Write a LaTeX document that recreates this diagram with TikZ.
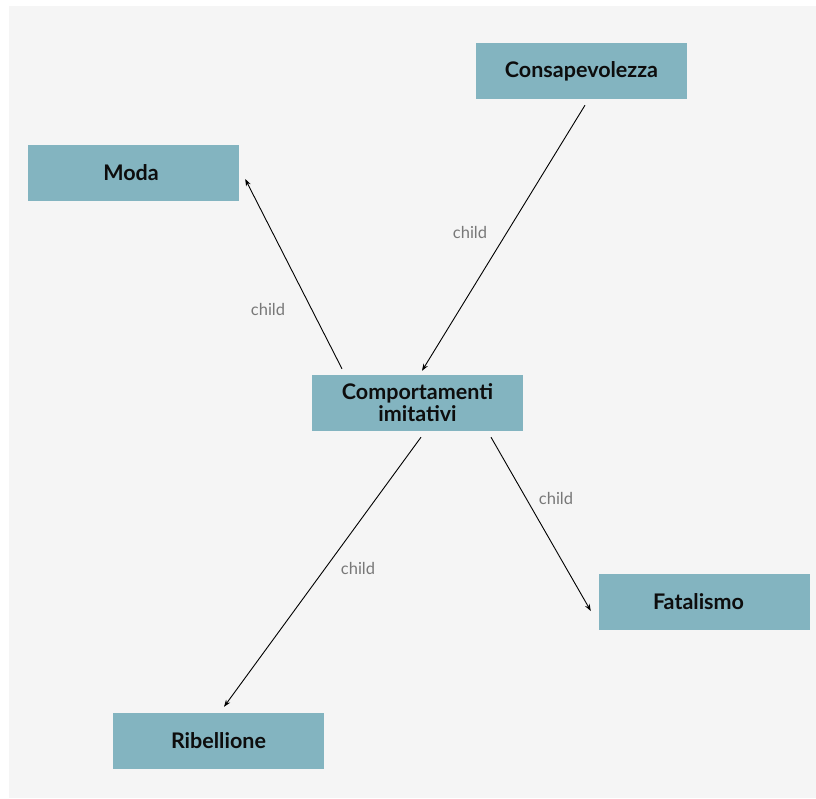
\documentclass[tikz,border=0pt]{standalone}
\usepackage{fontspec}
\setmainfont{Lato}
\usetikzlibrary{arrows.meta}
\definecolor{boxfill}{RGB}{131,180,192}
\definecolor{canvas}{RGB}{245,245,245}
\definecolor{labelgray}{RGB}{120,120,120}
\begin{document}
\begin{tikzpicture}[x=1pt,y=-1pt,
  concept/.style={fill=boxfill,minimum width=211pt,minimum height=56pt,inner sep=0pt,
    align=center,font=\fontsize{21.5}{22}\selectfont\bfseries,text=black!95},
  link/.style={draw=black,line width=0.9pt,-{Stealth[length=7pt,width=5pt]}},
  edgelabel/.style={font=\fontsize{16.5}{18}\selectfont,text=labelgray}]
  % canvas
  \useasboundingbox (0,0) rectangle (816,798);
  \fill[canvas] (9,6) rectangle (816,798);
  % concept boxes
  \node[concept] (cons) at (581.5,71) {Consapevolezza};
  \node[concept] (moda) at (133.5,173) {Moda\kern5pt};
  \node[concept] (comp) at (417.5,403) {Comportamenti\\imitativi};
  \node[concept] (fata) at (704.5,602) {Fatalismo\kern12pt};
  \node[concept] (ribe) at (218.5,741) {Ribellione};
  % links
  \draw[link] ([shift={(3.5,6)}]cons.south) -- ([shift={(4.5,-4)}]comp.north);
  \draw[link] ([shift={(-75.5,-6)}]comp.north) -- ([shift={(6,6)}]moda.east);
  \draw[link] ([shift={(73.5,6)}]comp.south) -- ([shift={(-8,9)}]fata.west);
  \draw[link] ([shift={(3.5,6)}]comp.south) -- ([shift={(5.5,-6)}]ribe.north);
  % link labels
  \node[edgelabel] (l1) at (470,232) {child};
  \node[edgelabel] (l2) at (268,309) {child};
  \node[edgelabel] (l3) at (556,498) {child};
  \node[edgelabel] (l4) at (358,568) {child};
\end{tikzpicture}
\end{document}
